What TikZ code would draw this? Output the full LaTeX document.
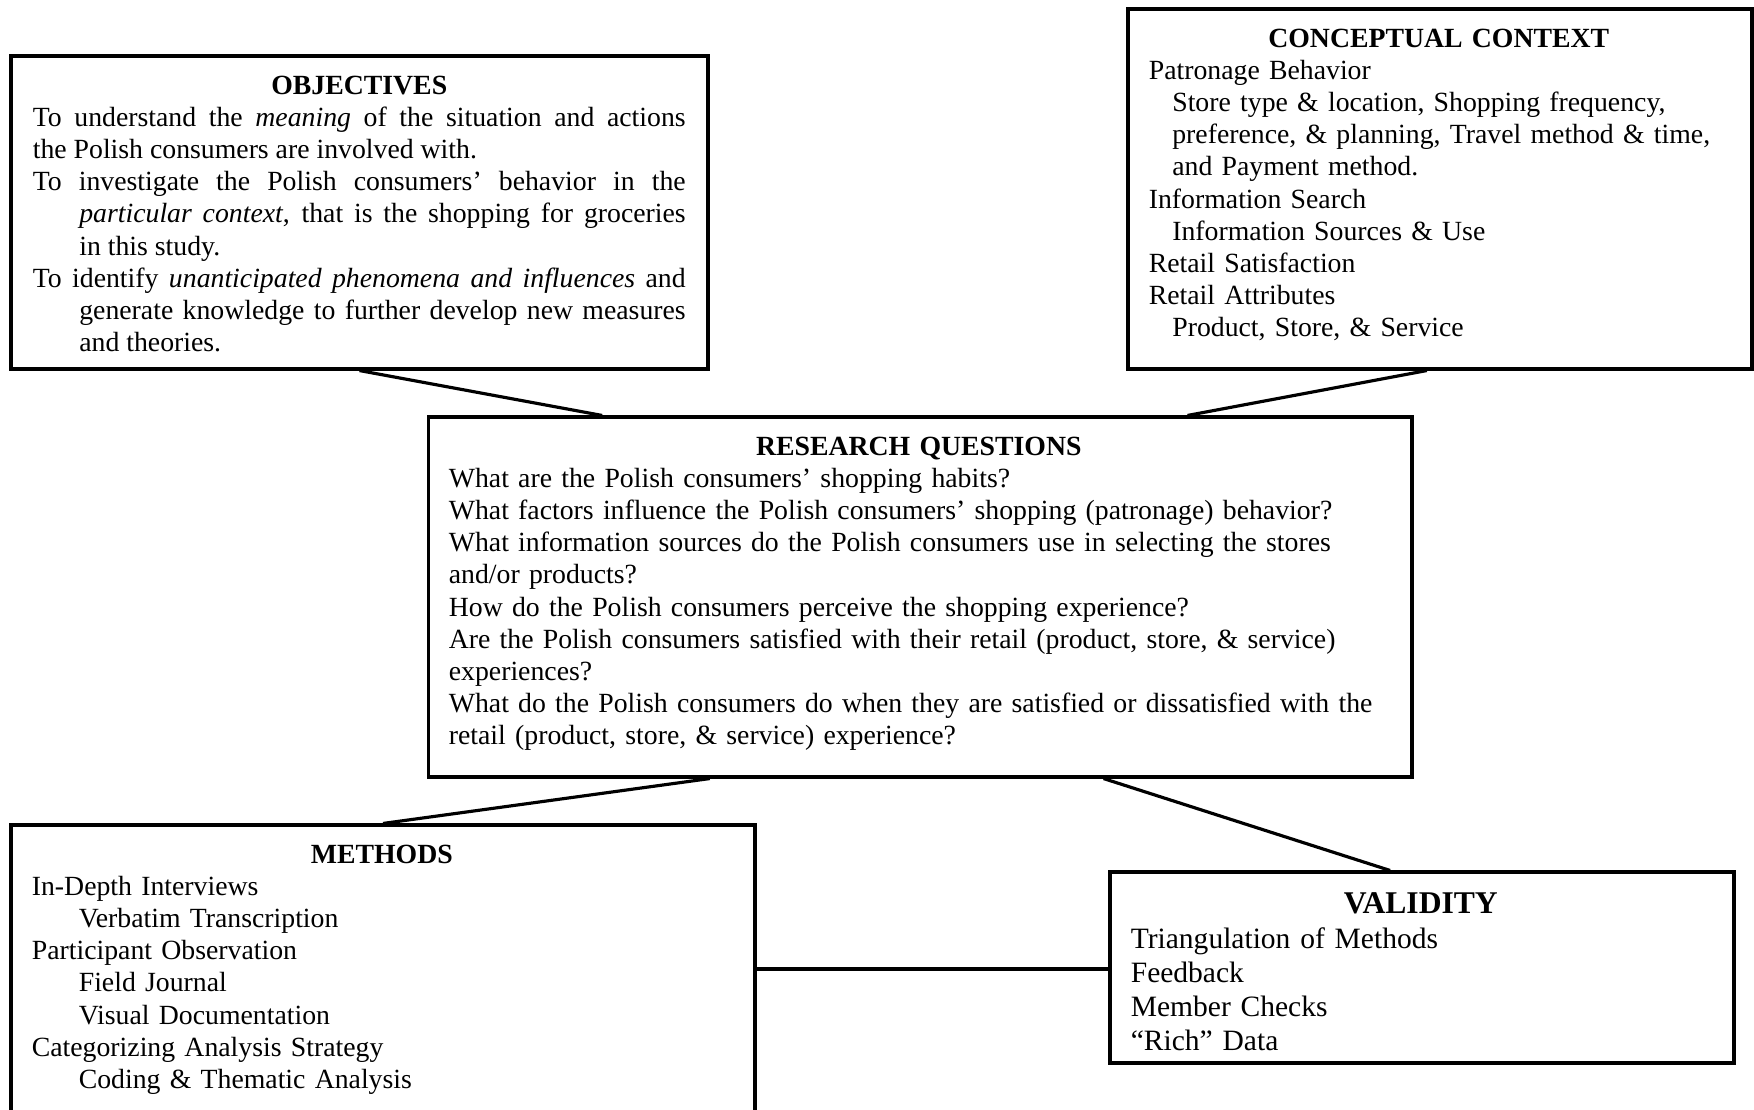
\documentclass[tikz,border=0pt]{standalone}
\usepackage{fontspec}
\setmainfont{Liberation Serif}
\usetikzlibrary{calc}
\setlength\parindent{0pt}
\newcommand\panelfont{\fontsize{15.8}{18.3}\selectfont}
\newcommand\validfont{\fontsize{16.8}{19.5}\selectfont}
\newcommand\paneltitle[1]{{\centering\bfseries\strut #1\par}}
\newcommand\subline[2][0.47cm]{{\leftskip=#1\relax #2\par}}

\begin{document}
\begin{tikzpicture}[x=0.02cm,y=-0.02cm,
  panel/.style={draw,line width=1.8pt,inner sep=0pt},
  body/.style={anchor=north west,inner sep=0pt,font=\panelfont,align=left},
  link/.style={line width=1.8pt}]
  \useasboundingbox (0,0) rectangle (1754,1109);
  \clip (0,0) rectangle (1754,1109);
  % panels
  \node[panel,minimum width=13.94cm,minimum height=6.26cm] (obj) at (359.5,212.5) {};
  \node[panel,minimum width=12.48cm,minimum height=7.2cm] (cc) at (1440,189) {};
  \node[panel,minimum width=19.68cm,minimum height=7.2cm] (rq) at (920,597) {};
  \node[panel,minimum width=14.88cm,minimum height=5.76cm] (methods) at (383,969) {};
  \node[panel,minimum width=12.48cm,minimum height=3.82cm] (val) at (1422,967.5) {};
  % texts
  \node[body,text width=13.06cm,align=justify] (objtxt) at ($(obj.north west)+(23,17)$) {%
    \paneltitle{OBJECTIVES}
    To understand the \emph{meaning} of the situation and actions\linebreak the Polish consumers are involved with.\par
    \hangindent=0.93cm\hangafter=1 To investigate the Polish consumers' behavior in the\linebreak \emph{particular context}, that is the shopping for groceries\linebreak in this study.\par
    \hangindent=0.93cm\hangafter=1 To identify \emph{unanticipated phenomena and influences} and\linebreak generate knowledge to further develop new measures\linebreak and theories.\par};
  \node[body,text width=11.6cm] (cctxt) at ($(cc.north west)+(22,17)$) {%
    \paneltitle{CONCEPTUAL CONTEXT}
    Patronage Behavior\par
    \subline{Store type \& location, Shopping frequency,\\ preference, \& planning, Travel method \& time,\\ and Payment method.}
    Information Search\par
    \subline{Information Sources \& Use}
    Retail Satisfaction\par
    Retail Attributes\par
    \subline{Product, Store, \& Service}};
  \node[body,text width=18.8cm] (rqtxt) at ($(rq.north west)+(22,17)$) {%
    \paneltitle{RESEARCH QUESTIONS}
    What are the Polish consumers' shopping habits?\\
    What factors influence the Polish consumers' shopping (patronage) behavior?\\
    What information sources do the Polish consumers use in selecting the stores\\
    and/or products?\\
    How do the Polish consumers perceive the shopping experience?\\
    Are the Polish consumers satisfied with their retail (product, store, \& service)\\
    experiences?\\
    What do the Polish consumers do when they are satisfied or dissatisfied with the\\
    retail (product, store, \& service) experience?};
  \node[body,text width=14cm] (methodstxt) at ($(methods.north west)+(22,17)$) {%
    \paneltitle{METHODS}
    In-Depth Interviews\par
    \subline[0.94cm]{Verbatim Transcription}
    Participant Observation\par
    \subline[0.94cm]{Field Journal}
    \subline[0.94cm]{Visual Documentation}
    Categorizing Analysis Strategy\par
    \subline[0.94cm]{Coding \& Thematic Analysis}};
  \node[body,font=\validfont,text width=11.6cm] (valtxt) at ($(val.north west)+(22,19)$) {%
    {\centering\fontsize{18}{19.5}\selectfont\bfseries\strut VALIDITY\par}
    Triangulation of Methods\par
    Feedback\par
    Member Checks\par
    ``Rich'' Data};
  % links
  \draw[link] (obj.south) -- ($(rq.north west)!0.178!(rq.north east)$);
  \draw[link] ($(cc.south west)!0.479!(cc.south east)$) -- ($(rq.north west)!0.771!(rq.north east)$);
  \draw[link] ($(rq.south west)!0.287!(rq.south east)$) -- (methods.north);
  \draw[link] ($(rq.south west)!0.686!(rq.south east)$) -- ($(val.north west)!0.449!(val.north east)$);
  \draw[link] (methods.east) -- (methods.east -| val.west);
\end{tikzpicture}
\end{document}
